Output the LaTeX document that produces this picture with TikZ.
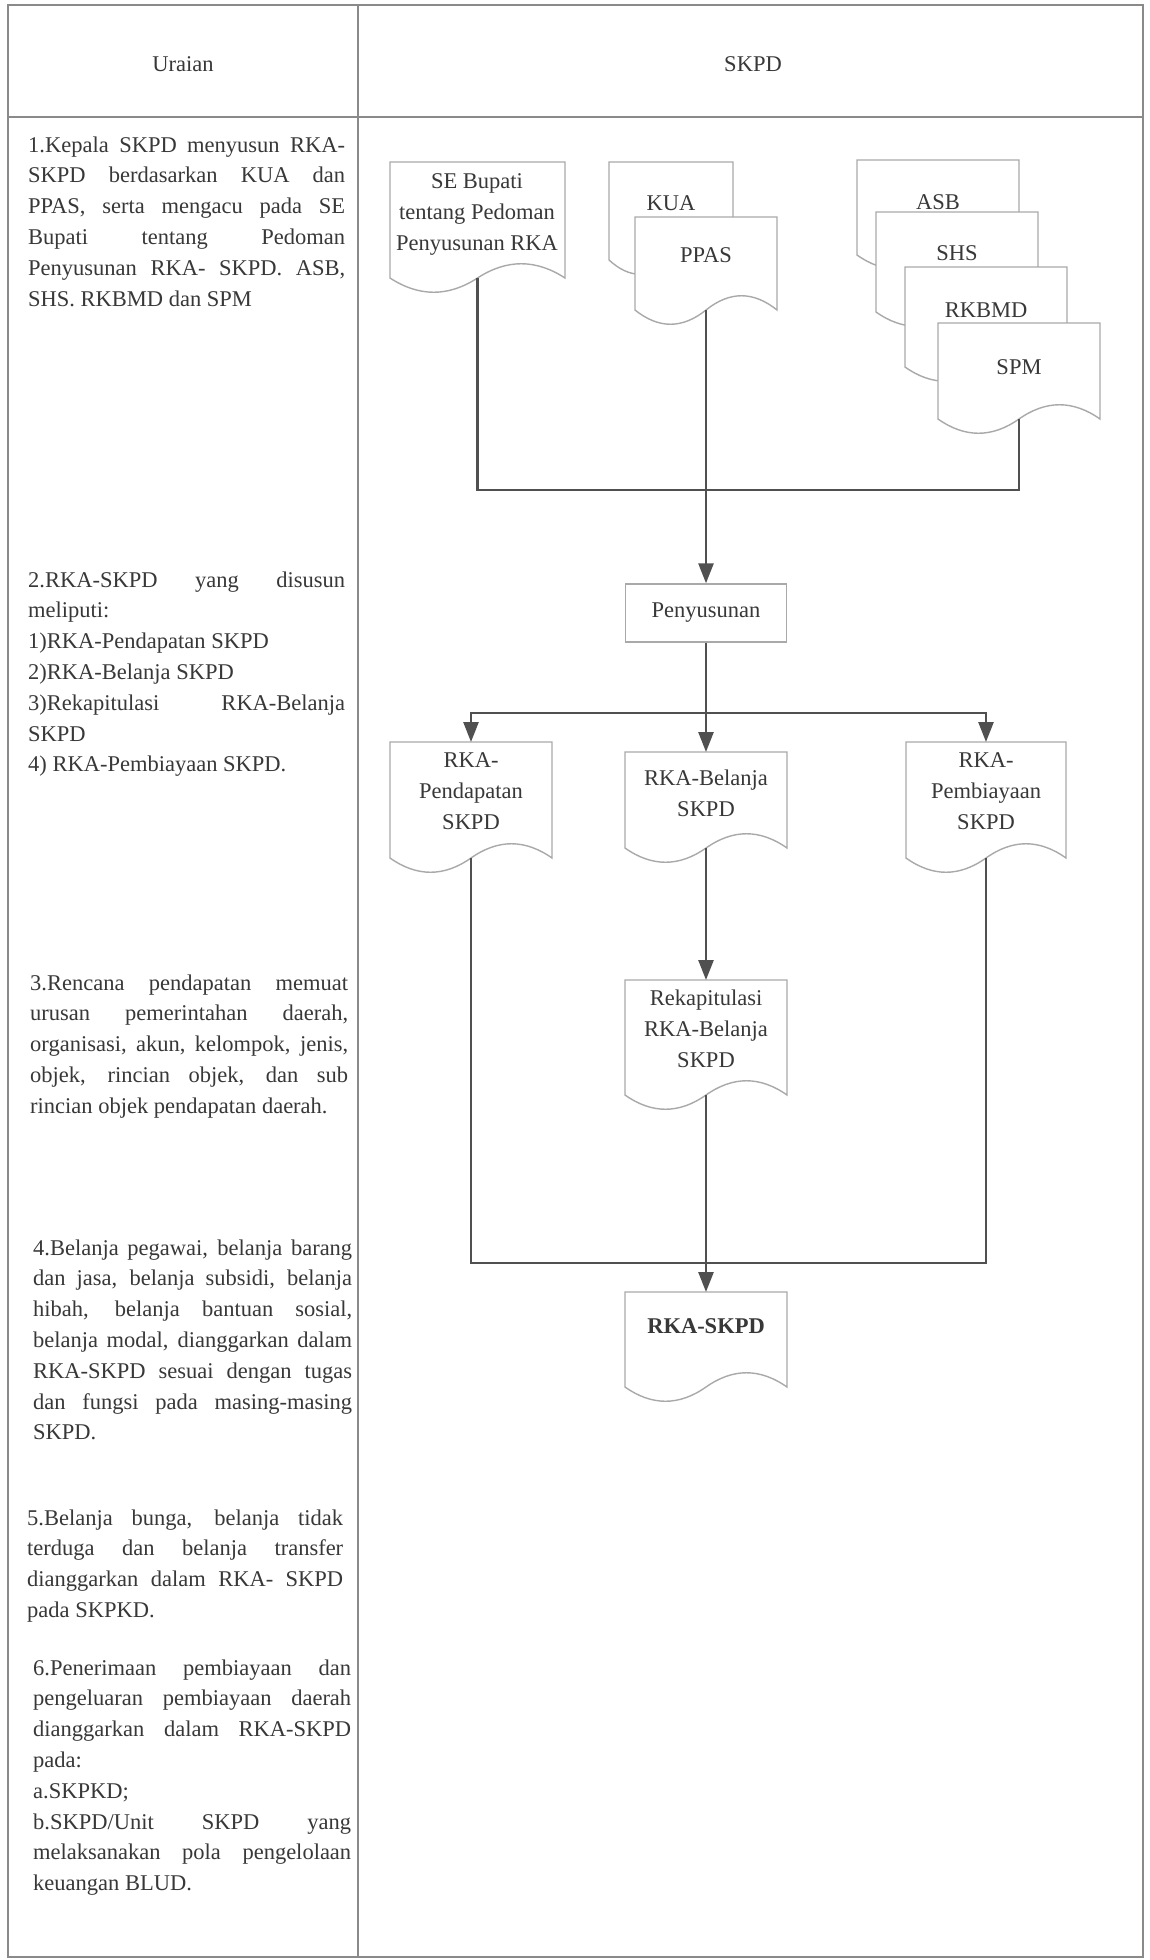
\documentclass[tikz,border=0pt]{standalone}
\usepackage{fontspec}
\setmainfont{Liberation Serif}
\usetikzlibrary{arrows.meta}
\definecolor{textc}{HTML}{383838}
\definecolor{tablec}{HTML}{8A8A8A}
\definecolor{boxc}{HTML}{A9A9A9}
\definecolor{connc}{HTML}{505050}
\newcommand{\jline}[1]{\makebox[\linewidth][s]{#1}\par}
\newcommand{\lline}[1]{\noindent #1\par}
\newcommand{\colblock}[5]{%
  \node[anchor=base west, inner sep=0pt, text=textc] (#1) at (#2,#3)
    {\parbox[t]{#4pt}{\fontsize{22.5}{30.8}\selectfont #5}};}
\newcommand{\docbox}[5]{%
  \node[inner sep=0pt, outer sep=0pt, minimum width=#4pt, minimum height=#5pt, anchor=north west] (#1) at (#2,#3) {};
  \draw[boxl, fill=white] (#1.north west) -- (#1.north east) -- (#1.south east)
    .. controls ++({-#4/6},-19) and ++({#4/6},-19) .. (#1.south)
    .. controls ++({-#4/6},19) and ++({#4/6},19) .. (#1.south west) -- cycle;}
\newcommand{\ctext}[2]{\parbox[t]{#1pt}{\centering #2}}
\begin{document}
\begin{tikzpicture}[x=1pt,y=-1pt,
  tabl/.style={draw=tablec, line width=1.8pt},
  boxl/.style={draw=boxc, line width=1.4pt},
  conn/.style={draw=connc, line width=2.6pt},
  arr/.style={-{Triangle[length=20pt,width=15pt]}},
  txt/.style={inner sep=0pt, text=textc, font=\fontsize{22.5}{31}\selectfont}]
\useasboundingbox (0,0) rectangle (1150,1960);
\fill[white] (0,0) rectangle (1150,1960);
% table
\draw[tabl] (8,5) rectangle (1143,1957);
\draw[tabl] (8,117) -- (1143,117);
\draw[tabl] (358,5) -- (358,1957);
\node[txt, anchor=base] (hu) at (183,71) {Uraian};
\node[txt, anchor=base] (hs) at (753,71) {SKPD};
% left column
\colblock{u1}{28}{152}{317}{%
\jline{1.Kepala SKPD menyusun RKA-}
\jline{SKPD berdasarkan KUA dan}
\jline{PPAS, serta mengacu pada SE}
\jline{Bupati tentang Pedoman}
\jline{Penyusunan RKA- SKPD. ASB,}
\lline{SHS. RKBMD dan SPM}}
\colblock{u2}{28}{587}{317}{%
\jline{2.RKA-SKPD yang disusun}
\lline{meliputi:}
\lline{1)RKA-Pendapatan SKPD}
\lline{2)RKA-Belanja SKPD}
\jline{3)Rekapitulasi RKA-Belanja}
\lline{SKPD}
\lline{4) RKA-Pembiayaan SKPD.}}
\colblock{u3}{30}{990}{318}{%
\jline{3.Rencana pendapatan memuat}
\jline{urusan pemerintahan daerah,}
\jline{organisasi, akun, kelompok, jenis,}
\jline{objek, rincian objek, dan sub}
\lline{rincian objek pendapatan daerah.}}
\colblock{u4}{33}{1255}{319}{%
\jline{4.Belanja pegawai, belanja barang}
\jline{dan jasa, belanja subsidi, belanja}
\jline{hibah, belanja bantuan sosial,}
\jline{belanja modal, dianggarkan dalam}
\jline{RKA-SKPD sesuai dengan tugas}
\jline{dan fungsi pada masing-masing}
\lline{SKPD.}}
\colblock{u5}{27}{1525}{316}{%
\jline{5.Belanja bunga, belanja tidak}
\jline{terduga dan belanja transfer}
\jline{dianggarkan dalam RKA- SKPD}
\lline{pada SKPKD.}}
\colblock{u6}{33}{1675}{318}{%
\jline{6.Penerimaan pembiayaan dan}
\jline{pengeluaran pembiayaan daerah}
\jline{dianggarkan dalam RKA-SKPD}
\lline{pada:}
\lline{a.SKPKD;}
\jline{b.SKPD/Unit SKPD yang}
\jline{melaksanakan pola pengelolaan}
\lline{keuangan BLUD.}}
% document shapes
\docbox{se}{390}{162}{175}{116}
\docbox{kua}{609}{162}{124}{98}
\docbox{ppas}{635}{217}{142}{93}
\docbox{asb}{857}{160}{162}{95}
\docbox{shs}{876}{212}{162}{100}
\docbox{rkbmd}{905}{267}{162}{100}
\docbox{spm}{938}{323}{162}{96}
\docbox{pend}{390}{742}{162}{116}
\docbox{bel}{625}{752}{162}{96}
\docbox{pemb}{906}{742}{160}{116}
\docbox{rekap}{625}{980}{162}{115}
\docbox{rska}{625}{1292}{162}{95}
\node[boxl, fill=white, minimum width=161pt, minimum height=58pt, inner sep=0pt, text=textc, font=\fontsize{22.5}{31}\selectfont] (peny) at (706,613) {Penyusunan};
% texts
\node[txt, anchor=base] (se-t) at (477,188) {\ctext{172}{SE Bupati\\tentang Pedoman\\Penyusunan RKA}};
\node[txt, anchor=base] (kua-t) at (671,210) {KUA};
\node[txt, anchor=base] (ppas-t) at (706,262) {PPAS};
\node[txt, anchor=base] (asb-t) at (938,209) {ASB};
\node[txt, anchor=base] (shs-t) at (957,260) {SHS};
\node[txt, anchor=base] (rkbmd-t) at (986,317) {RKBMD};
\node[txt, anchor=base] (spm-t) at (1019,374) {SPM};
\node[txt, anchor=base] (pend-t) at (471,767) {\ctext{160}{RKA-\\Pendapatan\\SKPD}};
\node[txt, anchor=base] (bel-t) at (706,785) {\ctext{160}{RKA-Belanja\\SKPD}};
\node[txt, anchor=base] (pemb-t) at (986,767) {\ctext{160}{RKA-\\Pembiayaan\\SKPD}};
\node[txt, anchor=base] (rekap-t) at (706,1005) {\ctext{160}{Rekapitulasi\\RKA-Belanja\\SKPD}};
\node[txt, anchor=base, font=\fontsize{22.5}{31}\selectfont\bfseries] (rska-t) at (706,1333) {RKA-SKPD};
% connectors
\coordinate (c1) at (706,490);
\coordinate (br) at (706,713);
\coordinate (m1) at (706,1263);
\draw[conn] (se.south) |- (c1) -| (spm.south);
\draw[conn, arr] (ppas.south) -- (peny.north);
\draw[conn, arr] (peny.south) -- (bel.north);
\draw[conn, arr] (br) -| (pend.north);
\draw[conn, arr] (br) -| (pemb.north);
\draw[conn, arr] (bel.south) -- (rekap.north);
\draw[conn] (pend.south) |- (m1) -| (pemb.south);
\draw[conn, arr] (rekap.south) -- (rska.north);
\end{tikzpicture}
\end{document}
